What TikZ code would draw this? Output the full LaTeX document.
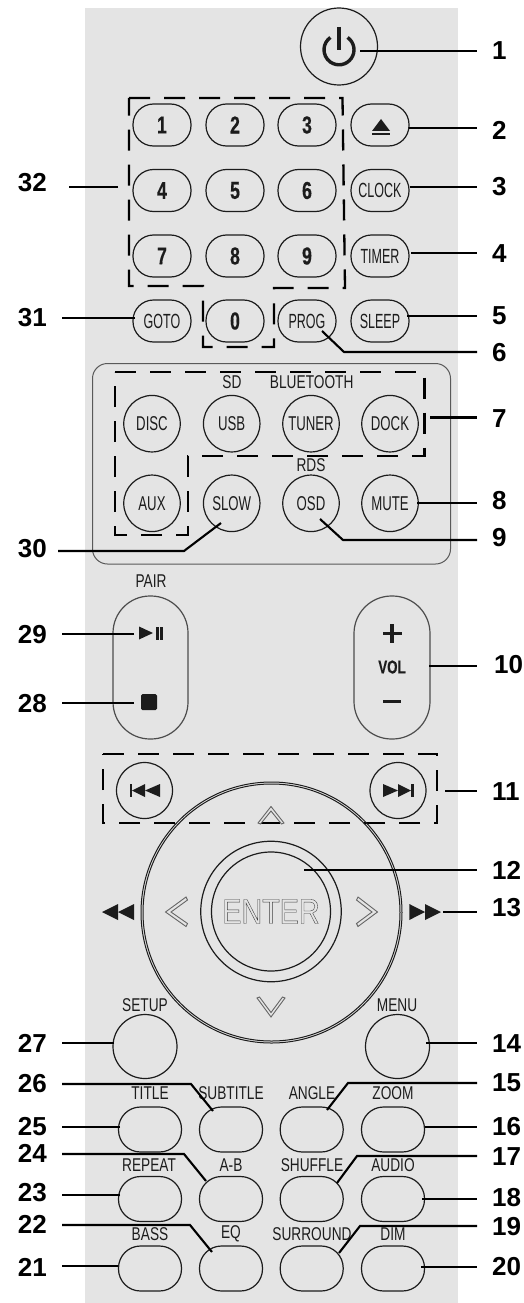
\documentclass[tikz,border=0pt]{standalone}
\usepackage{fontspec}
\setmainfont{Liberation Sans}
\newfontfamily\numf{Liberation Sans}
\newfontfamily\btnf[FakeStretch=0.66]{Liberation Sans}
\newfontfamily\ovlf[FakeStretch=0.61]{Liberation Sans}
\newfontfamily\capf[FakeStretch=0.74]{Liberation Sans}
\newfontfamily\digf[FakeStretch=0.72,FakeBold=0.5]{Liberation Sans Bold}
\newfontfamily\entf[FakeStretch=0.82,FakeBold=1.1]{Liberation Sans}
\definecolor{panel}{HTML}{E4E4E4}
\definecolor{ink}{HTML}{1C1C1C}
\tikzset{
 x=1pt,y=-1pt,
 btnline/.style={draw=ink,line width=1.2pt},
 oval/.style={btnline,rectangle,rounded corners=20.5pt,minimum width=58pt,minimum height=42pt,inner sep=0pt,text=ink},
 wide/.style={btnline,rectangle,rounded corners=22pt,minimum width=63pt,minimum height=45pt,inner sep=0pt},
 roundbtn/.style={btnline,circle,minimum size=56.5pt,inner sep=0pt,text=ink,font=\btnf\fontsize{20}{20}\selectfont},
 digit/.style={font=\digf\fontsize{24.5}{24.5}\selectfont},
 ovtext/.style={font=\ovlf\fontsize{20.5}{20.5}\selectfont},
 captxt/.style={inner sep=0pt,text=ink,font=\capf\fontsize{18.5}{18.5}\selectfont},
 numr/.style={anchor=west,inner xsep=15pt,inner ysep=0pt,text=black,font=\numf\bfseries\fontsize{26}{26}\selectfont},
 numl/.style={anchor=east,inner xsep=15pt,inner ysep=0pt,text=black,font=\numf\bfseries\fontsize{26}{26}\selectfont},
 lead/.style={draw=black,line width=2.1pt},
 dashbox/.style={draw=black,line width=2.3pt,dash pattern=on 21pt off 14pt,line join=miter},
 hollow/.style={draw=black!60,line width=0.9pt,fill=panel,line join=miter},
}
\begin{document}
\begin{tikzpicture}
\useasboundingbox (0,0) rectangle (523,1303);
\fill[panel] (85,8) rectangle (457.7,1303);

% power
\node[btnline,circle,minimum size=77pt,inner sep=0pt] (power) at (339,46.5) {};
\draw[ink,line width=3.4pt] (347.6,37.5) arc[start angle=55,end angle=-235,radius=15pt];
\draw[ink,line width=3.8pt] (339,27) -- (339,50);

% number pad
\node[oval,digit] (k1) at (162,125) {1};
\node[oval,digit] (k2) at (235,125) {2};
\node[oval,digit] (k3) at (307,125) {3};
\node[oval] (eject) at (380,125) {};
\node[oval,digit] (k4) at (162,190.5) {4};
\node[oval,digit] (k5) at (235,190.5) {5};
\node[oval,digit] (k6) at (307,190.5) {6};
\node[oval,ovtext] (clock) at (380,190.5) {CLOCK};
\node[oval,digit] (k7) at (162,256) {7};
\node[oval,digit] (k8) at (235,256) {8};
\node[oval,digit] (k9) at (307,256) {9};
\node[oval,ovtext] (timer) at (380,256) {TIMER};
\node[oval,ovtext] (goto) at (162,321) {GOTO};
\node[oval,digit] (k0) at (235,321) {0};
\node[oval,ovtext] (prog) at (307,321) {PROG};
\node[oval,ovtext] (sleep) at (380,321) {SLEEP};
\fill[ink] (372,131) -- (390,131) -- (381,119) -- cycle;
\fill[ink] (372,132.6) rectangle (390,134.6);

% source group
\draw[draw=black!65,line width=1pt,rounded corners=15pt] (92.5,363.5) rectangle (450.5,564);
\node[roundbtn] (disc) at (152,423.7) {DISC};
\node[roundbtn] (usb) at (231.7,423.7) {USB};
\node[roundbtn] (tuner) at (311,423.7) {TUNER};
\node[roundbtn] (dock) at (390,423.7) {DOCK};
\node[roundbtn] (aux) at (152,503.3) {AUX};
\node[roundbtn] (slow) at (231.7,503.3) {SLOW};
\node[roundbtn] (osd) at (311,503.3) {OSD};
\node[roundbtn] (mute) at (390,503.3) {MUTE};
\node[captxt] (sd) at (232,382.5) {SD};
\node[captxt] (bt) at (311.7,382.5) {BLUETOOTH};
\node[captxt] (rds) at (311,465) {RDS};

% dashed groups
\draw[dashbox] (129,98) -- (342.5,98) -- (345,288) -- (274,288) -- (274,347) -- (203,347) -- (203,286) -- (129,286) -- cycle;
\draw[dashbox] (115,372) -- (424.5,372) -- (424.5,456) -- (188,456) -- (188,535) -- (115,535) -- cycle;
\draw[dashbox] (103,754) -- (437,754) -- (437,823) -- (103,823) -- cycle;

% capsules
\node[captxt] (pair) at (151,581) {PAIR};
\draw[btnline,draw=black!70,rounded corners=37pt] (113,596) rectangle (188,739);
\draw[btnline,draw=black!70,rounded corners=37.5pt] (354,596) rectangle (430,739);
\fill[ink] (139,626.5) -- (153,633) -- (139,639.5) -- cycle;
\fill[ink] (156,626.5) rectangle (158.6,639.5);
\fill[ink] (160.2,626.5) rectangle (162.8,639.5);
\fill[ink,rounded corners=1.5pt] (141,694) rectangle (157,710);
\fill[ink] (382.5,631.5) rectangle (401.5,635);
\fill[ink] (390.2,623.5) rectangle (393.8,643);
\node[inner sep=0pt,text=ink,font=\digf\fontsize{18.5}{18.5}\selectfont] (vol) at (392,667) {VOL};
\fill[ink] (383,699.8) rectangle (401,702.6);

% skip buttons
\node[roundbtn,minimum size=56pt] (prev) at (144.5,790.5) {};
\node[roundbtn,minimum size=56pt] (next) at (398,790.5) {};
\fill[ink] (129.5,784) rectangle (132,797);
\fill[ink] (132,790.5) -- (145,784) -- (145,797) -- cycle;
\fill[ink] (145,790.5) -- (160,784) -- (160,797) -- cycle;
\fill[ink] (383,784) -- (398,790.5) -- (383,797) -- cycle;
\fill[ink] (398,784) -- (411,790.5) -- (398,797) -- cycle;
\fill[ink] (411,784) rectangle (413.5,797);

% wheel
\node[btnline,line width=1pt,circle,minimum size=261pt,inner sep=0pt] (wheel) at (271.5,912.5) {};
\node[btnline,line width=1pt,circle,minimum size=257pt,inner sep=0pt] (wheelin) at (271.5,912.5) {};
\node[btnline,circle,minimum size=140.5pt,inner sep=0pt] (ring) at (271,911.5) {};
\node[btnline,circle,minimum size=119pt,inner sep=0pt] (enter) at (271,911.5)
  {\special{pdf:bcolor [0.894] [0.25]}\entf\fontsize{35}{35}\selectfont ENTER\special{pdf:ecolor}};
\filldraw[hollow] (258,823) -- (271,806.5) -- (284,823) -- (281.5,824) -- (271,811) -- (260.5,824) -- cycle;
\filldraw[hollow] (257,998) -- (271,1017) -- (285,998) -- (282.5,997) -- (271,1012.5) -- (259.5,997) -- cycle;
\filldraw[hollow] (186,897) -- (165.5,912) -- (186,926.5) -- (187.5,923.5) -- (171,912) -- (187.5,900) -- cycle;
\filldraw[hollow] (358,897) -- (377.5,912) -- (358,926.5) -- (356.5,923.5) -- (372,912) -- (356.5,900) -- cycle;
\fill[ink] (102,912) -- (118,904) -- (118,920) -- cycle;
\fill[ink] (118,912) -- (134,904) -- (134,920) -- cycle;
\fill[ink] (409.3,904) -- (425,912) -- (409.3,920) -- cycle;
\fill[ink] (425,904) -- (441,912) -- (425,920) -- cycle;

% lower buttons
\node[captxt] (setupt) at (145,1005) {SETUP};
\node[captxt] (menut) at (397,1005) {MENU};
\node[btnline,circle,minimum size=64pt,inner sep=0pt] (setup) at (145,1046.5) {};
\node[btnline,circle,minimum size=64pt,inner sep=0pt] (menu) at (397.5,1046.5) {};
\node[captxt] (t1) at (150,1093) {TITLE};
\node[captxt] (t2) at (231,1093) {SUBTITLE};
\node[captxt] (t3) at (312,1093) {ANGLE};
\node[captxt] (t4) at (393,1093) {ZOOM};
\node[captxt] (t5) at (149,1165) {REPEAT};
\node[captxt] (t6) at (231,1165) {A-B};
\node[captxt] (t7) at (312,1165) {SHUFFLE};
\node[captxt] (t8) at (393,1165) {AUDIO};
\node[captxt] (t9) at (150,1234) {BASS};
\node[captxt] (t10) at (231,1234) {EQ};
\node[captxt] (t11) at (312,1234) {SURROUND};
\node[captxt] (t12) at (393,1234) {DIM};
\node[wide] (o1) at (150,1129.5) {};
\node[wide] (o2) at (231,1129.5) {};
\node[wide] (o3) at (311.7,1129.5) {};
\node[wide] (o4) at (393,1129.5) {};
\node[wide] (o5) at (150,1199) {};
\node[wide] (o6) at (231,1199) {};
\node[wide] (o7) at (311.7,1199) {};
\node[wide] (o8) at (393,1199) {};
\node[wide] (o9) at (150,1268.5) {};
\node[wide] (o10) at (231,1268.5) {};
\node[wide] (o11) at (311.7,1268.5) {};
\node[wide] (o12) at (393,1268.5) {};

% number labels, right
\node[numr] (n1) at (477,51) {1};
\node[numr] (n2) at (477,130) {2};
\node[numr] (n3) at (477,187) {3};
\node[numr] (n4) at (477,254) {4};
\node[numr] (n5) at (477,316) {5};
\node[numr] (n6) at (477,353) {6};
\node[numr] (n7) at (477,419) {7};
\node[numr] (n8) at (477,501) {8};
\node[numr] (n9) at (477,538) {9};
\node[numr,inner xsep=17pt] (n10) at (477,665) {10};
\node[numr] (n11) at (477,792) {11};
\node[numr] (n12) at (477,870) {12};
\node[numr] (n13) at (477,908) {13};
\node[numr] (n14) at (477,1044) {14};
\node[numr] (n15) at (477,1083) {15};
\node[numr] (n16) at (477,1127) {16};
\node[numr] (n17) at (477,1157) {17};
\node[numr] (n18) at (477,1198) {18};
\node[numr] (n19) at (477,1227) {19};
\node[numr] (n20) at (477,1267) {20};
% number labels, left
\node[numl] (n21) at (62,1267) {21};
\node[numl] (n22) at (62,1224) {22};
\node[numl] (n23) at (62,1193) {23};
\node[numl] (n24) at (62,1153) {24};
\node[numl] (n25) at (62,1127) {25};
\node[numl] (n26) at (62,1084) {26};
\node[numl] (n27) at (62,1043) {27};
\node[numl] (n28) at (62,704) {28};
\node[numl] (n29) at (62,635) {29};
\node[numl,inner xsep=11pt] (n30) at (58,549) {30};
\node[numl] (n31) at (62,318) {31};
\node[numl,inner xsep=22pt] (n32) at (69,183) {32};

% connector ends
\coordinate (c1) at (360,51);
\coordinate (c2) at (409,128);
\coordinate (c3) at (410,187);
\coordinate (c4) at (411,253);
\coordinate (c5) at (407,316);
\coordinate (c6) at (322,331);   \coordinate (d6) at (344,352);
\coordinate (c7) at (430,417.5);
\coordinate (c8) at (417,503);
\coordinate (c9) at (320,519);   \coordinate (d9) at (343,540);
\coordinate (c10) at (429,666);
\coordinate (c11) at (445,791);
\coordinate (c12) at (304,870);
\coordinate (c13) at (443,912);
\coordinate (c14) at (426,1043);
\coordinate (c15) at (327,1110); \coordinate (d15) at (348,1083);
\coordinate (c16) at (425,1127);
\coordinate (c17) at (337,1183); \coordinate (d17) at (357,1156);
\coordinate (c18) at (422,1199);
\coordinate (c19) at (339,1253); \coordinate (d19) at (360,1226);
\coordinate (c20) at (421,1267);
\coordinate (c21) at (118,1266);
\coordinate (c22) at (212,1252); \coordinate (d22) at (190,1225);
\coordinate (c23) at (120,1195);
\coordinate (c24) at (206,1181); \coordinate (d24) at (184,1154);
\coordinate (c25) at (120,1127);
\coordinate (c26) at (213,1111); \coordinate (d26) at (191,1084);
\coordinate (c27) at (114,1043);
\coordinate (c28) at (134,703);
\coordinate (c29) at (134,634);
\coordinate (c30) at (221,523);  \coordinate (d30) at (184,551);
\coordinate (c31) at (135,318);
\coordinate (c32) at (118,187);

% connectors
\foreach \k in {1,2,3,4,5,7,8,10,11,12,13,14,16,18,20}
  \draw[lead] (c\k) -- (c\k -| n\k.west);
\foreach \k in {6,9,15,17,19}
  \draw[lead] (c\k) -- (d\k) -- (d\k -| n\k.west);
\foreach \k in {21,23,25,27,28,29,31,32}
  \draw[lead] (c\k) -- (c\k -| n\k.east);
\foreach \k in {22,24,26,30}
  \draw[lead] (c\k) -- (d\k) -- (d\k -| n\k.east);
\end{tikzpicture}
\end{document}
